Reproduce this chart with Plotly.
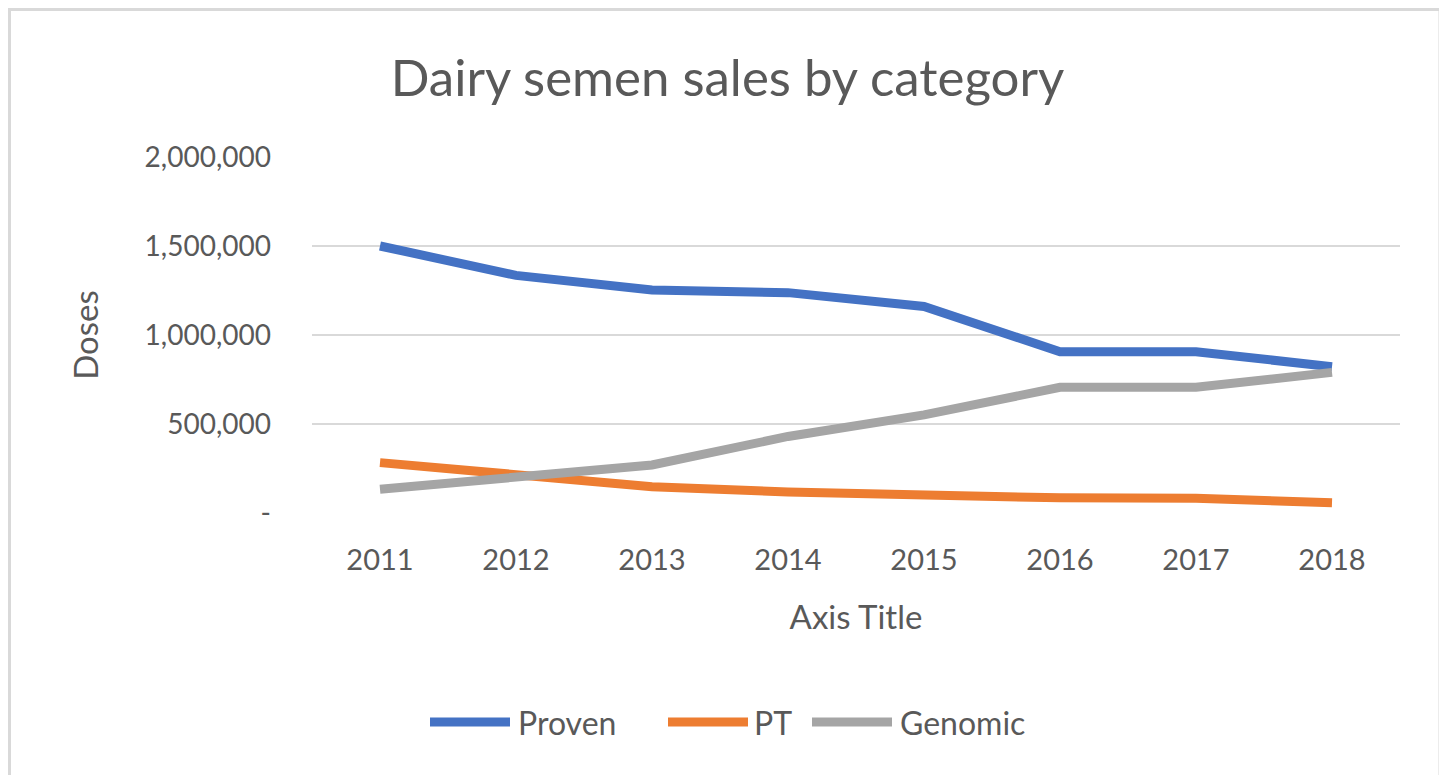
import plotly.graph_objects as go

years = ["2011", "2012", "2013", "2014", "2015", "2016", "2017", "2018"]
proven = [1500000, 1335000, 1253000, 1238000, 1160000, 906000, 906000, 822000]
pt = [283000, 213000, 148000, 118000, 98000, 85000, 83000, 58000]
genomic = [133000, 204000, 270000, 430000, 551000, 706000, 706000, 790000]

series_names = ["Proven", "PT", "Genomic"]
colors = ["#4472C4", "#ED7D31", "#A5A5A5"]

ytickvals = [0, 500000, 1000000, 1500000, 2000000]
yticktext = ["-", "500,000", "1,000,000", "1,500,000", "2,000,000"]

FONT = "Lato"
TXT = "#595959"

# page body has an 8px margin; work in figure coordinates
OFF = 8
W, H = 1447 - OFF, 775 - OFF
L, R, T, B = 312 - OFF, 1400 - OFF, 157 - OFF, 513 - OFF
pw, ph = R - L, B - T


def px(x):
    return (x - OFF - L) / pw


def py(y):
    return (B - (y - OFF)) / ph


fig = go.Figure()
for name, vals, c in zip(series_names, [proven, pt, genomic], colors):
    fig.add_trace(go.Scatter(x=years, y=vals, name=name, mode="lines",
                             line=dict(color=c, width=9), showlegend=False))

fig.update_layout(
    width=W, height=H,
    margin=dict(l=L, r=W - R, t=T, b=H - B),
    paper_bgcolor="white", plot_bgcolor="white",
    font=dict(family=FONT, color=TXT, size=29),
    title=dict(text="Dairy semen sales by category", x=0.5, xanchor="center",
               y=1 - (78 - OFF) / H, yanchor="middle",
               font=dict(size=51, color=TXT, family=FONT)),
    xaxis=dict(type="category", range=[-0.5, 7.5], showgrid=False, showline=False,
               zeroline=False, tickfont=dict(size=29, color=TXT), ticks="",
               ticklabelstandoff=27,
               title=dict(text="Axis Title", font=dict(size=33, color=TXT), standoff=30)),
    yaxis=dict(range=[0, 2000000], tickvals=ytickvals, ticktext=yticktext,
               showgrid=True, gridcolor="#D9D9D9", gridwidth=2, zeroline=False,
               showline=False, ticks="", ticklabelstandoff=40,
               tickfont=dict(size=28, color=TXT),
               title=dict(text="Doses", font=dict(size=33, color=TXT), standoff=36)),
    showlegend=False,
)

# chart-area border
fig.add_shape(type="rect", xref="paper", yref="paper",
              x0=px(9.5), x1=px(1440), y0=py(800), y1=py(9.5),
              line=dict(color="#D9D9D9", width=3), fillcolor="rgba(0,0,0,0)", layer="below")

# legend (custom, to match long line samples)
legend_items = [(430, 510, 516), (668, 748, 752), (812, 892, 898)]
for (x0, x1, tx), name, c in zip(legend_items, series_names, colors):
    fig.add_shape(type="line", xref="paper", yref="paper",
                  x0=px(x0), x1=px(x1), y0=py(722), y1=py(722),
                  line=dict(color=c, width=9))
    fig.add_annotation(xref="paper", yref="paper", x=px(tx), y=py(722),
                       text=name, showarrow=False, xanchor="left", yanchor="middle",
                       font=dict(size=32, color=TXT, family=FONT))

fig.write_html("out.html")
